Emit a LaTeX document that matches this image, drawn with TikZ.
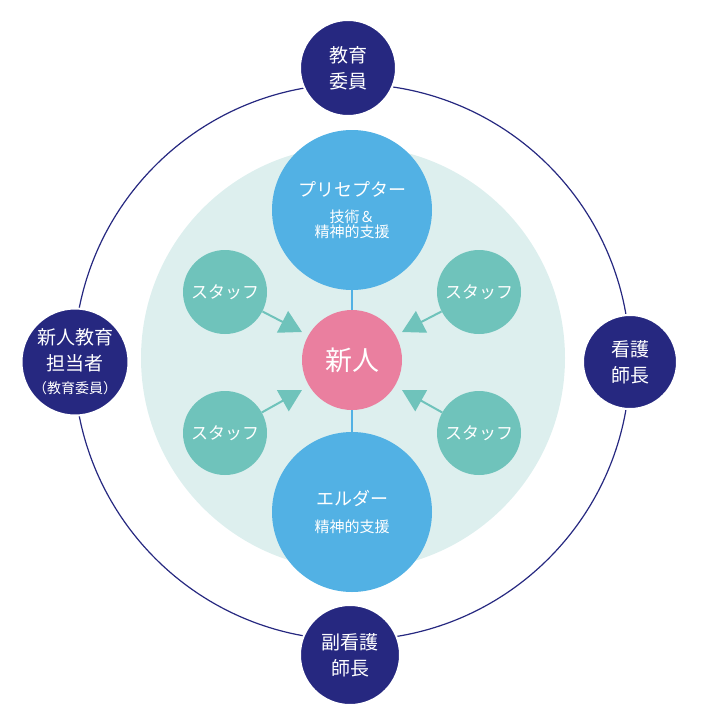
\documentclass[tikz,border=0pt]{standalone}
\usepackage{fontspec}
\newfontfamily\cjk{Noto Sans CJK JP}
\usetikzlibrary{arrows.meta}
\definecolor{navy}{HTML}{262880}
\definecolor{sky}{HTML}{52B1E4}
\definecolor{teal}{HTML}{6FC3BB}
\definecolor{pinky}{HTML}{EA7F9F}
\definecolor{pale}{HTML}{DDEFEE}
\begin{document}
\begin{tikzpicture}[x=1pt,y=-1pt,
  outer/.style={circle,fill=navy,draw=white,line width=2pt,text=white,align=center,font=\cjk\fontsize{19}{26}\selectfont,inner sep=0pt},
  big/.style={circle,fill=sky,text=white,align=center,minimum size=160pt,inner sep=0pt},
  staff/.style={circle,fill=teal,text=white,minimum size=84pt,inner sep=0pt,font=\cjk\fontsize{17}{20}\selectfont},
  arr/.style={draw=teal,line width=2pt,-{Triangle[length=22pt,width=24pt]}}]
\useasboundingbox (0,0) rectangle (712,728);
\draw[navy,line width=1.2pt] (352,362) circle (278);
\fill[pale] (353,358) circle (212);
\node[big] (pre) at (352,210) {\cjk\fontsize{18}{22}\selectfont プリセプター\\[12pt]\cjk\fontsize{15}{24}\selectfont 技術＆\\\cjk\fontsize{15}{24}\selectfont 精神的支援};
\node[big] (eld) at (352,512) {\cjk\fontsize{18}{22}\selectfont エルダー\\[12pt]\cjk\fontsize{15}{21}\selectfont 精神的支援};
\node[circle,fill=pinky,text=white,minimum size=100pt,font=\cjk\fontsize{27}{30}\selectfont] (new) at (352,360) {新人};
\draw[sky,line width=2pt] (pre) -- (new);
\draw[sky,line width=2pt] (eld) -- (new);
\node[staff] (s1) at (225,292) {スタッフ};
\node[staff] (s2) at (479,292) {スタッフ};
\node[staff] (s3) at (225,433) {スタッフ};
\node[staff] (s4) at (479,433) {スタッフ};
\coordinate (e1) at (302,332); \coordinate (e2) at (402,332);
\coordinate (e3) at (302,390); \coordinate (e4) at (402,390);
\draw[arr] (s1) -- (e1); \draw[arr] (s2) -- (e2);
\draw[arr] (s3) -- (e3); \draw[arr] (s4) -- (e4);
\node[outer,minimum size=96pt] (t) at (348,68) {教育\\委員};
\node[outer,minimum size=104pt] (l) at (75,362) {新人教育\\担当者\\[-3pt]{\fontsize{14}{16}\selectfont（教育委員）}};
\node[outer,minimum size=94pt] (r) at (630,362) {看護\\師長};
\node[outer,minimum size=100pt] (b) at (350,655) {副看護\\師長};
\end{tikzpicture}
\end{document}
